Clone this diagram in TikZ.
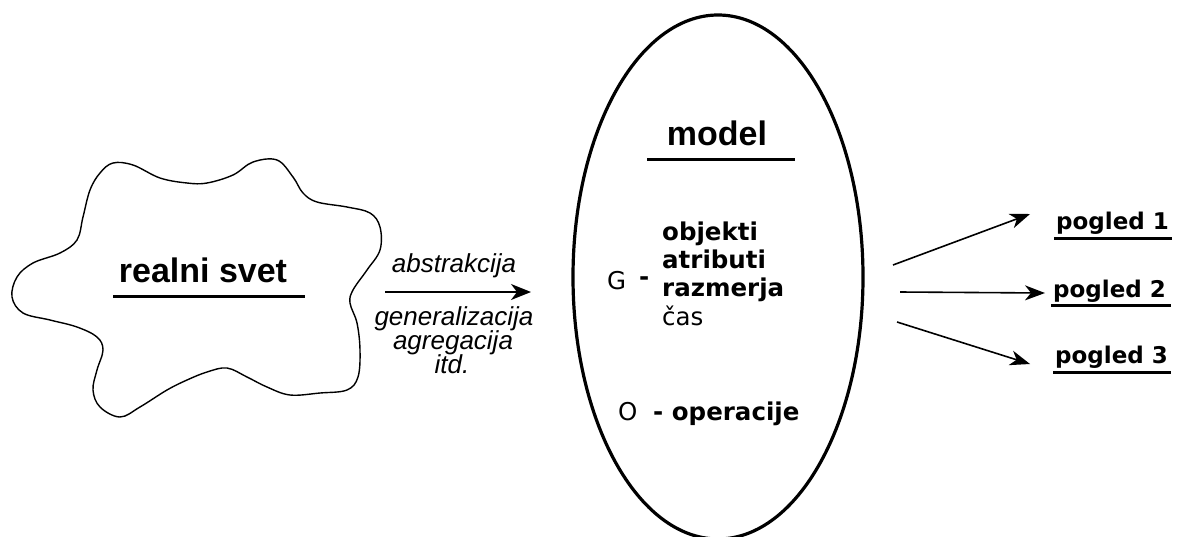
\documentclass[tikz,border=0pt]{standalone}
\usepackage{fontspec}
\setmainfont{Liberation Sans}
\newfontfamily\dvs{DejaVu Sans}
\usetikzlibrary{arrows.meta}
\tikzset{
  big/.style={font=\fontsize{34}{40}\selectfont\bfseries, inner sep=0pt, anchor=base},
  itl/.style={font=\fontsize{26}{30}\selectfont\itshape, inner sep=0pt, anchor=base},
  gb/.style={font=\dvs\fontsize{24.5}{28}\selectfont\bfseries, inner sep=0pt, anchor=base west},
  gr/.style={font=\dvs\fontsize{24.5}{28}\selectfont, inner sep=0pt, anchor=base west},
  pog/.style={font=\dvs\fontsize{23}{28}\selectfont\bfseries, inner sep=0pt, anchor=base west},
  uline/.style={line width=3pt},
  arr/.style={line width=1.6pt, -{Stealth[length=20pt,width=15pt,inset=6pt]}},
}
\begin{document}
\begin{tikzpicture}[x=1pt,y=-1pt]
\useasboundingbox (0,0) rectangle (1177,536);
% cloud
\draw[line width=1.4pt] plot[smooth cycle, tension=0.6] coordinates {
(113,163) (133,165) (160,178) (187,183) (207,183) (233,175) (253,162) (277,160)
(293,177) (303,193) (317,202) (347,207) (370,213) (380,227) (380,250) (367,270)
(353,290) (350,303) (357,323) (360,350) (358,377) (347,390) (320,393) (290,395)
(267,387) (247,377) (227,368) (207,372) (187,380) (167,390) (140,407) (120,417)
(100,407) (93,390) (97,370) (103,350) (97,337) (77,327) (50,320) (23,313)
(12,297) (17,277) (33,263) (60,253) (77,240) (83,217) (90,190) (100,173)};
\node[big] (rs) at (203,282) {realni svet};
\coordinate (rsL) at (113,296); \coordinate (rsR) at (305,296);
\draw[uline] (rsL) -- (rsR);
% abstraction arrow
\node[itl] (abs) at (454,272) {abstrakcija};
\coordinate (a1) at (385,292); \coordinate (a2) at (531,292);
\draw[line width=2pt, -{Stealth[length=20pt,width=16pt,inset=6pt]}] (a1) -- (a2);
\node[itl] (gen) at (454,325) {generalizacija};
\node[itl] (agr) at (453,349) {agregacija};
\node[itl] (itd) at (452,373) {itd.};
% ellipse
\draw[line width=3.2pt] (718,277) ellipse [x radius=145, y radius=262];
\node[big] (model) at (717,145) {model};
\coordinate (mL) at (647,159); \coordinate (mR) at (795,159);
\draw[uline] (mL) -- (mR);
\node[gr] (G) at (607,289) {G};
\node[gb] (Gd) at (639,285) {-};
\node[gb] (ob) at (662,240) {objekti};
\node[gb] (at) at (662,268) {atributi};
\node[gb] (rz) at (662,296) {razmerja};
\node[gr] (cas) at (662,325) {čas};
\node[gr] (O) at (618,420) {O};
\node[gb] (op) at (653,420) {- operacije};
% views
\node[pog] (p1) at (1056,229) {pogled 1};
\node[pog] (p2) at (1053,297) {pogled 2};
\node[pog] (p3) at (1055,363) {pogled 3};
\draw[uline] (p1.base west) ++(-2,9) coordinate (u1) -- ++(118,0);
\draw[uline] (p2.base west) ++(-2,8) coordinate (u2) -- ++(120,0);
\draw[uline] (p3.base west) ++(-2,9) coordinate (u3) -- ++(118,0);
\coordinate (s1) at (893,265); \coordinate (e1) at (1030,214);
\coordinate (s2) at (900,292); \coordinate (e2) at (1045,293);
\coordinate (s3) at (897,322); \coordinate (e3) at (1030,364);
\draw[arr] (s1) -- (e1);
\draw[arr] (s2) -- (e2);
\draw[arr] (s3) -- (e3);
\end{tikzpicture}
\end{document}
